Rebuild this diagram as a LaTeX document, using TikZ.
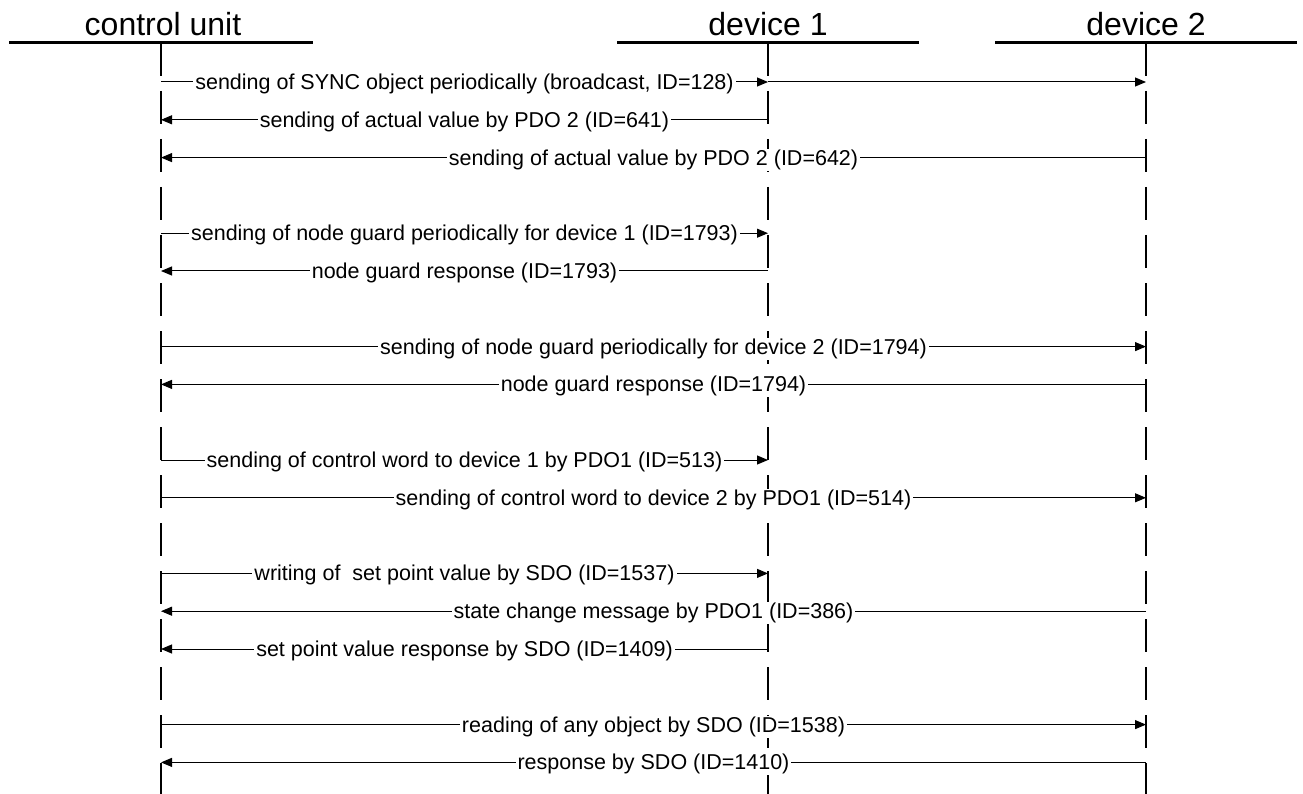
\documentclass[tikz,border=0pt]{standalone}
\usepackage{fontspec}
\setmainfont{Liberation Sans}
\usetikzlibrary{arrows.meta}

\begin{document}
\begin{tikzpicture}[x=1pt,y=-1pt,
  head/.style={font=\fontsize{32}{36}\selectfont,anchor=base,inner sep=0pt},
  bar/.style={line width=3pt},
  life/.style={line width=2pt,dash pattern=on 33pt off 15pt},
  msg/.style={line width=1pt,-{Triangle[length=11pt,width=9pt]}},
  lbl/.style={font=\fontsize{21.5}{24}\selectfont,fill=white,inner xsep=2pt,inner ysep=1pt,anchor=base,yshift=-7.5pt}]
  \useasboundingbox (0,0) rectangle (1303,794);
  % Heads of the three lifelines
  \coordinate (cuT) at (161,43);
  \coordinate (d1T) at (768,43);
  \coordinate (d2T) at (1146,43);
  \coordinate (cuB) at (161,794);
  \coordinate (d1B) at (768,794);
  \coordinate (d2B) at (1146,794);
  \node[head] (cu) at (163,36) {control unit};
  \node[head] (d1) at (768,36) {device 1};
  \node[head] (d2) at (1146,36) {device 2};
  \draw[bar] ([xshift=-152pt]cuT) -- ([xshift=152pt]cuT);
  \draw[bar] ([xshift=-151pt]d1T) -- ([xshift=151pt]d1T);
  \draw[bar] ([xshift=-151pt]d2T) -- ([xshift=151pt]d2T);
  \draw[life] (cuT) -- (cuB);
  \draw[life] (d1T) -- (d1B);
  \draw[life] (d2T) -- (d2B);
  % Rows of the messages
  \coordinate (r1)  at (0,82);
  \coordinate (r2)  at (0,119.8);
  \coordinate (r3)  at (0,157.6);
  \coordinate (r4)  at (0,233.2);
  \coordinate (r5)  at (0,271);
  \coordinate (r6)  at (0,346.6);
  \coordinate (r7)  at (0,384.4);
  \coordinate (r8)  at (0,460);
  \coordinate (r9)  at (0,497.8);
  \coordinate (r10) at (0,573.4);
  \coordinate (r11) at (0,611.2);
  \coordinate (r12) at (0,649);
  \coordinate (r13) at (0,724.6);
  \coordinate (r14) at (0,762.4);
  % SYNC and actual values
  \draw[msg] (cuT |- r1) -- (d1T |- r1) node[lbl,midway] (l1) {sending of SYNC object periodically (broadcast, ID=128)};
  \draw[msg] (d1T |- r1) -- (d2T |- r1);
  \draw[msg] (d1T |- r2) -- (cuT |- r2) node[lbl,midway] (l2) {sending of actual value by PDO 2 (ID=641)};
  \draw[msg] (d2T |- r3) -- (cuT |- r3) node[lbl,midway] (l3) {sending of actual value by PDO 2 (ID=642)};
  % Node guarding
  \draw[msg] (cuT |- r4) -- (d1T |- r4) node[lbl,midway] (l4) {sending of node guard periodically for device 1 (ID=1793)};
  \draw[msg] (d1T |- r5) -- (cuT |- r5) node[lbl,midway] (l5) {node guard response (ID=1793)};
  \draw[msg] (cuT |- r6) -- (d2T |- r6) node[lbl,midway] (l6) {sending of node guard periodically for device 2 (ID=1794)};
  \draw[msg] (d2T |- r7) -- (cuT |- r7) node[lbl,midway] (l7) {node guard response (ID=1794)};
  % Control words
  \draw[msg] (cuT |- r8) -- (d1T |- r8) node[lbl,midway] (l8) {sending of control word to device 1 by PDO1 (ID=513)};
  \draw[msg] (cuT |- r9) -- (d2T |- r9) node[lbl,midway] (l9) {sending of control word to device 2 by PDO1 (ID=514)};
  % Set point by SDO
  \draw[msg] (cuT |- r10) -- (d1T |- r10) node[lbl,midway] (l10) {writing of\ \ set point value by SDO (ID=1537)};
  \draw[msg] (d2T |- r11) -- (cuT |- r11) node[lbl,midway] (l11) {state change message by PDO1 (ID=386)};
  \draw[msg] (d1T |- r12) -- (cuT |- r12) node[lbl,midway] (l12) {set point value response by SDO (ID=1409)};
  % Reading by SDO
  \draw[msg] (cuT |- r13) -- (d2T |- r13) node[lbl,midway] (l13) {reading of any object by SDO (ID=1538)};
  \draw[msg] (d2T |- r14) -- (cuT |- r14) node[lbl,midway] (l14) {response by SDO (ID=1410)};
\end{tikzpicture}
\end{document}
